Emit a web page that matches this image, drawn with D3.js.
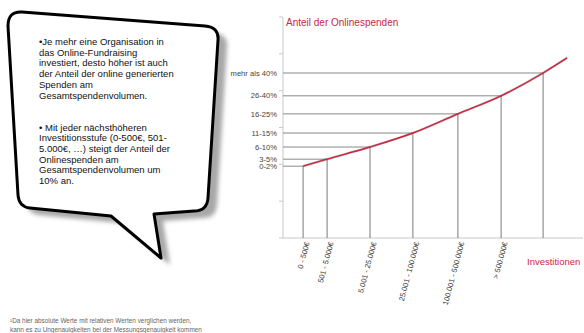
<!DOCTYPE html>
<html>
<head>
<meta charset="utf-8">
<script src="https://cdn.jsdelivr.net/npm/d3@7"></script>
<style>
  body { margin: 0; background: #fff; }
  svg { display: block; font-family: "Liberation Sans", Arial, sans-serif; }
</style>
</head>
<body>
<svg id="chart" width="584" height="333"></svg>
<script>
// share levels (y axis), lowest first
const shareLabels = ['0-2%', '3-5%', '6-10%', '11-15%', '16-25%', '26-40%', 'mehr als 40%']
const shareValues = [19.5, 21.4, 24.7, 28.5, 33.7, 38.6, 44.8]
// investment steps (x axis position of each drop line)
const investPos = [6.7, 14.7, 29, 43.3, 58.3, 72.7, 86.7]
const investLabels = ['0 - 500€', '501 - 5.000€', '5.001 - 25.000€', '25.001 - 100.000€', '100.001 - 500.000€', '> 500.000€']
// where the curve runs out past the last step
const curveEnd = { x: 94.7, y: 48.9 }

const bubbleLines = [
  '•Je mehr eine Organisation in',
  'das Online-Fundraising',
  'investiert, desto höher ist auch',
  'der Anteil der online generierten',
  'Spenden am',
  'Gesamtspendenvolumen.',
  '',
  '',
  '• Mit jeder nächsthöheren',
  'Investitionsstufe (0-500€, 501-',
  '5.000€, …) steigt der Anteil der',
  'Onlinespenden am',
  'Gesamtspendenvolumen um',
  '10% an.'
]
const footnoteLines = [
  '¹Da hier absolute Werte mit relativen Werten verglichen werden,',
  'kann es zu Ungenauigkeiten bei der Messungsgenauigkeit kommen'
]

const svg = d3.select('#chart')
const red = '#c8283f'

const x = d3.scaleLinear().domain([0, 100]).range([283, 583])
const y = d3.scaleLinear().domain([0, 60]).range([238, 17])

// --- speech bubble ---
const defs = svg.append('defs')
defs.append('filter').attr('id', 'blur')
  .append('feGaussianBlur').attr('stdDeviation', 2)

const bubblePath = 'M 22,12 L 205,26 Q 219,27 218,40 L 208,198 Q 207,211 194,211 ' +
  'L 154,214 L 161,258 L 111,216 L 30,208 Q 19,207 18,195 L 8,26 Q 8,11 22,12 Z'

svg.append('path')
  .attr('d', bubblePath)
  .attr('transform', 'translate(9,7)')
  .attr('fill', '#a8a8a8')
  .attr('filter', 'url(#blur)')

svg.append('path')
  .attr('d', bubblePath)
  .attr('fill', '#fff')
  .attr('stroke', '#000')
  .attr('stroke-width', 3)
  .attr('stroke-linejoin', 'round')

svg.append('g')
  .selectAll('text')
  .data(bubbleLines)
  .join('text')
  .attr('x', 39)
  .attr('y', (d, i) => 45 + i * 10.7)
  .attr('font-size', 9.5)
  .attr('fill', '#111')
  .text(d => d)

// --- chart ---
// y axis line and small ticks
svg.append('line')
  .attr('x1', x(0)).attr('x2', x(0))
  .attr('y1', y(60)).attr('y2', y(0))
  .attr('stroke', '#c8c8c8')
svg.append('g')
  .selectAll('line')
  .data(y.ticks(6))
  .join('line')
  .attr('x1', x(0) - 4).attr('x2', x(0))
  .attr('y1', d => y(d)).attr('y2', d => y(d))
  .attr('stroke', '#c8c8c8')

// x axis line
svg.append('line')
  .attr('x1', x(0)).attr('x2', x(100))
  .attr('y1', y(0)).attr('y2', y(0))
  .attr('stroke', '#c8c8c8')

const steps = shareValues.map((v, i) => ({ x: investPos[i], y: v, label: shareLabels[i] }))

// horizontal level lines
svg.append('g')
  .selectAll('line')
  .data(steps)
  .join('line')
  .attr('x1', x(0)).attr('x2', d => x(d.x))
  .attr('y1', d => y(d.y)).attr('y2', d => y(d.y))
  .attr('stroke', '#8a8a8a')

// vertical drop lines
svg.append('g')
  .selectAll('line')
  .data(steps)
  .join('line')
  .attr('x1', d => x(d.x)).attr('x2', d => x(d.x))
  .attr('y1', d => y(d.y)).attr('y2', y(0))
  .attr('stroke', '#7a7a7a')

// level labels
svg.append('g')
  .selectAll('text')
  .data(steps)
  .join('text')
  .attr('x', x(0) - 6)
  .attr('y', d => y(d.y))
  .attr('dy', '0.35em')
  .attr('text-anchor', 'end')
  .attr('font-size', 7.6)
  .attr('fill', '#444')
  .text(d => d.label)

// investment labels, rotated
svg.append('g')
  .selectAll('text')
  .data(investLabels)
  .join('text')
  .attr('transform', (d, i) => `translate(${x(investPos[i]) + 4},${y(0) + 4}) rotate(-75)`)
  .attr('text-anchor', 'end')
  .attr('dy', '0.35em')
  .attr('font-size', 7.5)
  .attr('fill', '#333')
  .text(d => d)

// growth curve
const line = d3.line()
  .x(d => x(d.x))
  .y(d => y(d.y))
  .curve(d3.curveMonotoneX)
svg.append('path')
  .datum([...steps, curveEnd])
  .attr('d', line)
  .attr('fill', 'none')
  .attr('stroke', '#5a1a22')
  .attr('stroke-width', 2.2)
  .attr('opacity', 0.35)
svg.append('path')
  .datum([...steps, curveEnd])
  .attr('d', line)
  .attr('fill', 'none')
  .attr('stroke', red)
  .attr('stroke-width', 1.4)

// axis titles
svg.append('text')
  .attr('x', x(0) + 3).attr('y', 26)
  .attr('font-size', 10)
  .attr('fill', red)
  .text('Anteil der Onlinespenden')
svg.append('text')
  .attr('x', 527).attr('y', 265)
  .attr('font-size', 9.5)
  .attr('fill', red)
  .text('Investitionen')

// footnote
svg.append('g')
  .selectAll('text')
  .data(footnoteLines)
  .join('text')
  .attr('x', 10)
  .attr('y', (d, i) => 323 + i * 9)
  .attr('font-size', 6.4)
  .attr('fill', '#666')
  .text(d => d)
</script>
</body>
</html>
